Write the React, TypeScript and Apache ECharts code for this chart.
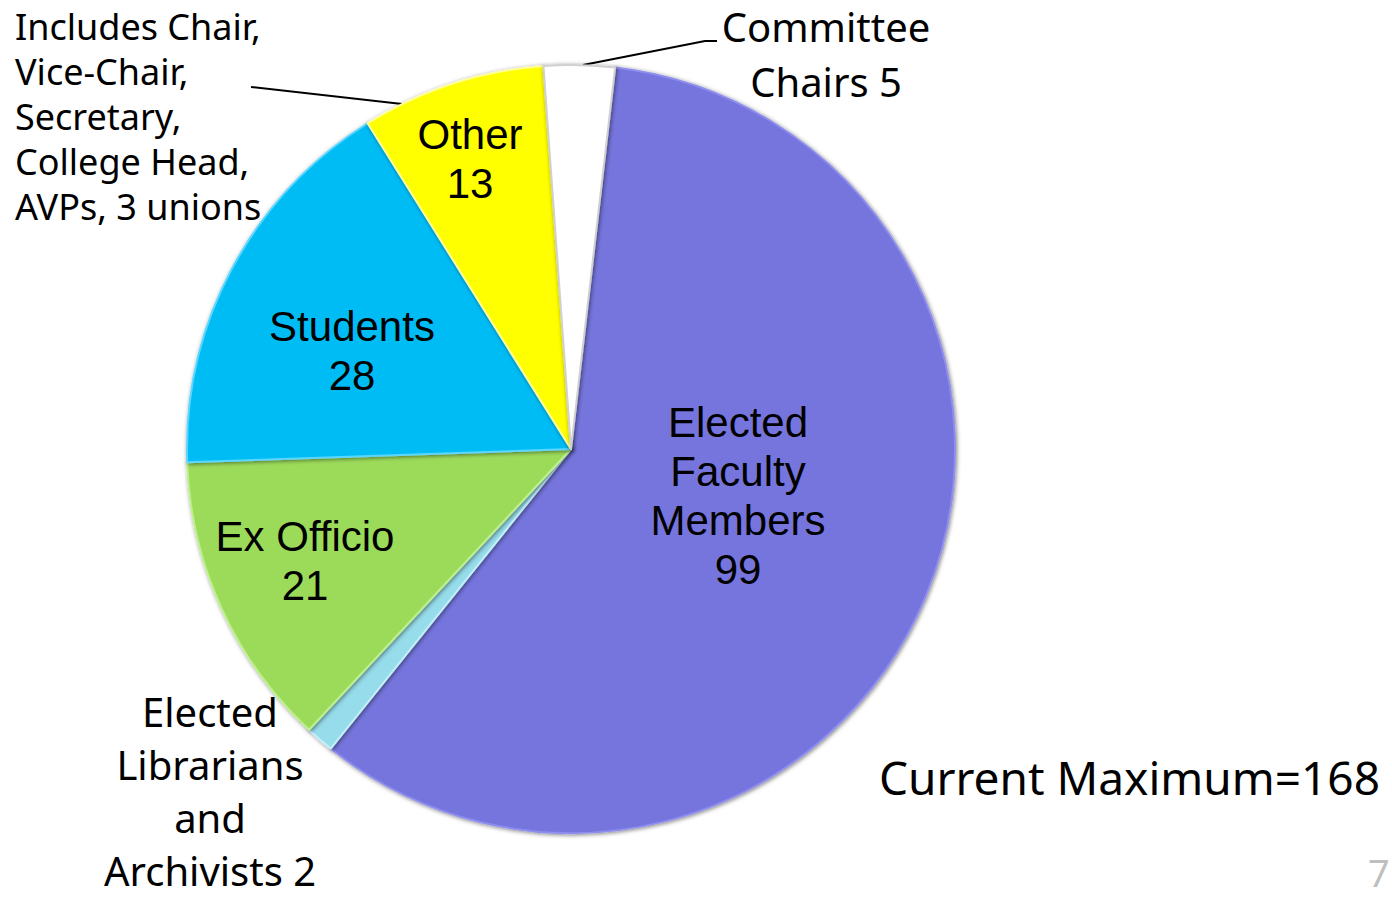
import React, { useEffect, useRef } from "react";
import * as echarts from "echarts";

const categories = [
  "Elected Faculty Members",
  "Elected Librarians and Archivists",
  "Ex Officio",
  "Students",
  "Other",
  "Committee Chairs",
];
const values = [99, 2, 21, 28, 13, 5];
const labelTexts = [
  "Elected\nFaculty\nMembers\n99",
  "Elected\nLibrarians\nand\nArchivists 2",
  "Ex Officio\n21",
  "Students\n28",
  "Other\n13",
  "Committee\nChairs 5",
];
const noteLines = ["Includes Chair,", "Vice-Chair,", "Secretary,", "College Head,", "AVPs, 3 unions"];
const totalText = "Current Maximum=168";
const pageNumber = "7";

const colors = ["#7575DD", "#96DCEA", "#9CDB5A", "#00BCF5", "#FFFF00", "#FFFFFF"];
const borderColors = ["#8E8EEE", "#C2F0F8", "#BDF08A", "#5AD6FF", "#FFFF99", "#D0D0D0"];

// label anchor positions (center) in pixels
const labelPos: [number, number][] = [
  [738, 496],
  [210, 791],
  [305, 561],
  [352, 351],
  [470, 159],
  [826, 54],
];
const labelLineHeights = [49, 53, 49, 49, 49, 55];
const outsideIdx = [1, 5];
const leaderLines: Record<number, [number, number][]> = {
  1: [
    [345, 705],
    [300, 722],
  ],
  5: [
    [583, 65],
    [705, 41],
    [717, 41],
  ],
};

export default function App() {
  const ref = useRef<HTMLDivElement>(null);
  useEffect(() => {
    document.body.style.margin = "0";
    const chart = echarts.init(ref.current!, undefined, { renderer: "svg" });
    const data = categories.map((name, i) => {
      const outside = outsideIdx.includes(i);
      return {
        name,
        value: values[i],
        itemStyle: { color: colors[i], borderColor: borderColors[i] },
        label: outside
          ? {
              position: "outside",
              fontFamily: "Noto Sans",
              fontSize: 40,
              lineHeight: labelLineHeights[i],
              color: "#000",
              align: "center",
            }
          : {
              position: "inside",
              fontFamily: "Liberation Sans, Arial",
              fontSize: 42,
              lineHeight: labelLineHeights[i],
              color: "#000",
              align: "center",
            },
        labelLine: outside
          ? { show: true, lineStyle: { color: "#000", width: 2 } }
          : { show: false },
      };
    });
    chart.setOption({
      animation: false,
      backgroundColor: "#ffffff",
      series: [
        {
          type: "pie",
          center: [571, 449],
          radius: 384,
          startAngle: 83.4,
          clockwise: true,
          avoidLabelOverlap: false,
          itemStyle: {
            borderWidth: 2,
            shadowBlur: 4,
            shadowColor: "rgba(0,0,0,0.5)",
            shadowOffsetX: 1,
            shadowOffsetY: 1,
          },
          emphasis: { disabled: true },
          label: {
            formatter: (p: any) => labelTexts[p.dataIndex],
          },
          labelLayout: (p: any) => {
            const i = p.dataIndex;
            const res: any = {
              x: labelPos[i][0],
              y: labelPos[i][1],
              align: "center",
              verticalAlign: "middle",
            };
            if (leaderLines[i]) res.labelLinePoints = leaderLines[i];
            return res;
          },
          data,
        },
      ],
      graphic: [
        {
          type: "text",
          left: 15,
          top: 4,
          style: {
            text: noteLines.join("\n"),
            font: '36px "Noto Sans"',
            lineHeight: 45,
            fill: "#000",
          },
        },
        {
          type: "line",
          shape: { x1: 251, y1: 87, x2: 411, y2: 105 },
          style: { stroke: "#000", lineWidth: 2 },
        },
        {
          type: "text",
          x: 879,
          y: 777,
          style: {
            text: totalText,
            font: '46px "Noto Sans"',
            fill: "#000",
            textVerticalAlign: "middle",
          },
        },
        {
          type: "text",
          x: 1368,
          y: 872,
          style: {
            text: pageNumber,
            font: '38px "Noto Sans"',
            fill: "#BFBFBF",
            textVerticalAlign: "middle",
          },
        },
      ],
    });
    return () => chart.dispose();
  }, []);
  return <div ref={ref} style={{ width: 1392, height: 899 }} />;
}
